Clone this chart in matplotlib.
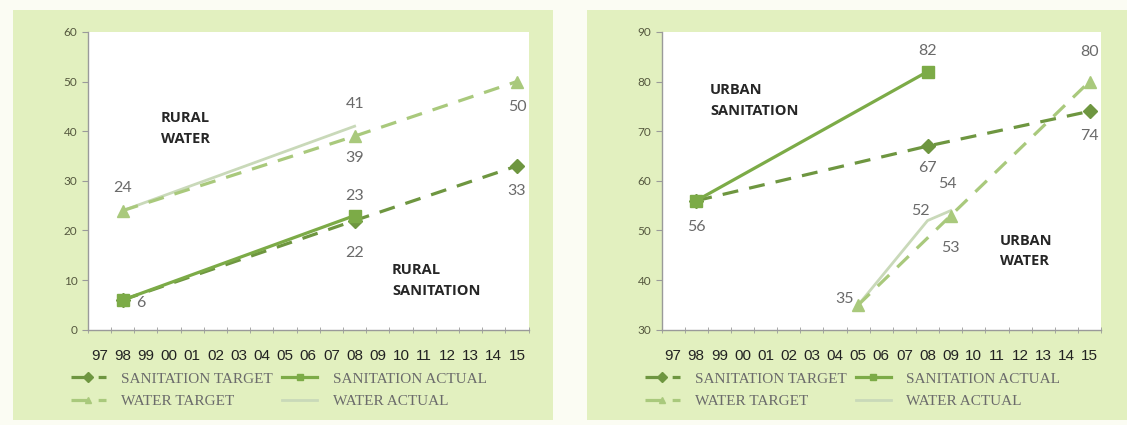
import numpy as np
import matplotlib.pyplot as plt
from matplotlib.patches import Rectangle

years = ['97', '98', '99', '00', '01', '02', '03', '04', '05', '06',
         '07', '08', '09', '10', '11', '12', '13', '14', '15']

# rural panel
rural_san_target_yrs = ['98', '08', '15']
rural_san_target = [6, 22, 33]
rural_san_actual_yrs = ['98', '08']
rural_san_actual = [6, 23]
rural_wat_target_yrs = ['98', '08', '15']
rural_wat_target = [24, 39, 50]
rural_wat_actual_yrs = ['98', '08']
rural_wat_actual = [24, 41]

# urban panel
urban_san_target_yrs = ['98', '08', '15']
urban_san_target = [56, 67, 74]
urban_san_actual_yrs = ['98', '08']
urban_san_actual = [56, 82]
urban_wat_target_yrs = ['05', '09', '15']
urban_wat_target = [35, 53, 80]
urban_wat_actual_yrs = ['05', '08', '09']
urban_wat_actual = [35, 52, 54]

C_ST = '#6e9640'
C_SA = '#7cab47'
C_WT = '#a9c97c'
C_WA = '#c9d9b9'
PANEL = '#e2f0bf'
GREY = '#6a6a6a'

fig = plt.figure(figsize=(11.27, 4.25), dpi=100, facecolor='#fbfcf3')

# green panels behind each chart
fig.patches.append(Rectangle((0.0115, 0.012), 0.479, 0.964, transform=fig.transFigure,
                             facecolor=PANEL, edgecolor='none', zorder=-5))
fig.patches.append(Rectangle((0.521, 0.012), 0.479, 0.964, transform=fig.transFigure,
                             facecolor=PANEL, edgecolor='none', zorder=-5))

ax1 = fig.add_axes([0.078, 0.224, 0.391, 0.701])
ax2 = fig.add_axes([0.587, 0.224, 0.390, 0.701])


def idx(yrs):
    return [years.index(y) for y in yrs]


def draw(ax, st, sa, wt, wa):
    ax.plot(idx(st[0]), st[1], color=C_ST, lw=2.3, ls=(0, (5, 3.5)), marker='D',
            ms=7, label='SANITATION TARGET', zorder=4)
    ax.plot(idx(sa[0]), sa[1], color=C_SA, lw=2.3, marker='s', ms=9,
            label='SANITATION ACTUAL', zorder=5)
    ax.plot(idx(wt[0]), wt[1], color=C_WT, lw=2.3, ls=(0, (5, 3.5)), marker='^',
            ms=9, label='WATER TARGET', zorder=3)
    ax.plot(idx(wa[0]), wa[1], color=C_WA, lw=2.0, label='WATER ACTUAL', zorder=2)

    ax.set_xlim(-0.5, len(years) - 0.5)
    ax.set_xticks(range(len(years)))
    ax.set_xticklabels(years, fontfamily='Liberation Sans', fontsize=11, color='#222222')
    ax.set_xticks(np.arange(-0.5, len(years)), minor=True)
    ax.tick_params(axis='x', which='major', length=0, pad=14)
    ax.tick_params(axis='x', which='minor', length=4, direction='inout', color='#9a9a9a')
    ax.tick_params(axis='y', length=4, color='#9a9a9a', labelsize=8.5, labelcolor='#55583f')
    for t in ax.get_yticklabels():
        t.set_fontfamily('Lato')
    for s in ['top', 'right']:
        ax.spines[s].set_visible(False)
    for s in ['left', 'bottom']:
        ax.spines[s].set_color('#9a9a9a')
        ax.spines[s].set_linewidth(1.0)

    leg = ax.legend(handles=[ax.lines[0], ax.lines[2], ax.lines[1], ax.lines[3]],
                    ncol=2, loc='upper left', bbox_to_anchor=(-0.07, -0.095),
                    frameon=False, handlelength=2.3, handletextpad=1.0,
                    columnspacing=0.6, labelspacing=0.6,
                    prop={'family': 'Liberation Serif', 'size': 11})
    for t in leg.get_texts():
        t.set_color('#6b6b6b')
    for h in leg.legend_handles:
        h.set_markersize(5)


def label(ax, yr, val, dx, dy):
    ax.annotate(str(val), (years.index(yr), val), xytext=(dx, dy),
                textcoords='offset points', ha='center', va='center',
                fontfamily='Lato', fontsize=11.5, color=GREY)


def title(ax, x, y, s):
    ax.text(x, y, s, transform=ax.transAxes, fontfamily='Open Sans', fontweight='bold',
            fontsize=10.5, color='#262626', linespacing=1.6, va='center', ha='left')


draw(ax1, (rural_san_target_yrs, rural_san_target), (rural_san_actual_yrs, rural_san_actual),
     (rural_wat_target_yrs, rural_wat_target), (rural_wat_actual_yrs, rural_wat_actual))
ax1.set_ylim(0, 60)
ax1.set_yticks(range(0, 61, 10))
label(ax1, '98', rural_wat_target[0], 0, 16)
label(ax1, '08', rural_wat_actual[1], 0, 16)
label(ax1, '08', rural_wat_target[1], 0, -16)
label(ax1, '15', rural_wat_target[2], 0, -18)
label(ax1, '08', rural_san_actual[1], 0, 14)
label(ax1, '08', rural_san_target[1], 0, -23)
label(ax1, '15', rural_san_target[2], 0, -18)
label(ax1, '98', rural_san_actual[0], 13, -2)
title(ax1, 0.165, 0.675, 'RURAL\nWATER')
title(ax1, 0.69, 0.165, 'RURAL\nSANITATION')

draw(ax2, (urban_san_target_yrs, urban_san_target), (urban_san_actual_yrs, urban_san_actual),
     (urban_wat_target_yrs, urban_wat_target), (urban_wat_actual_yrs, urban_wat_actual))
ax2.set_ylim(30, 90)
ax2.set_yticks(range(30, 91, 10))
label(ax2, '08', urban_san_actual[1], 0, 15)
label(ax2, '15', urban_wat_target[2], 0, 21)
label(ax2, '15', urban_san_target[2], 0, -18)
label(ax2, '08', urban_san_target[1], 0, -16)
label(ax2, '98', urban_san_actual[0], 0, -19)
label(ax2, '09', urban_wat_actual[2], -2, 19)
label(ax2, '08', urban_wat_actual[1], -5, 7)
label(ax2, '09', urban_wat_target[1], 0, -23)
label(ax2, '05', urban_wat_target[0], -10, 4)
title(ax2, 0.11, 0.77, 'URBAN\nSANITATION')
title(ax2, 0.77, 0.265, 'URBAN\nWATER')

fig.savefig('out.png', dpi=100, facecolor=fig.get_facecolor())
